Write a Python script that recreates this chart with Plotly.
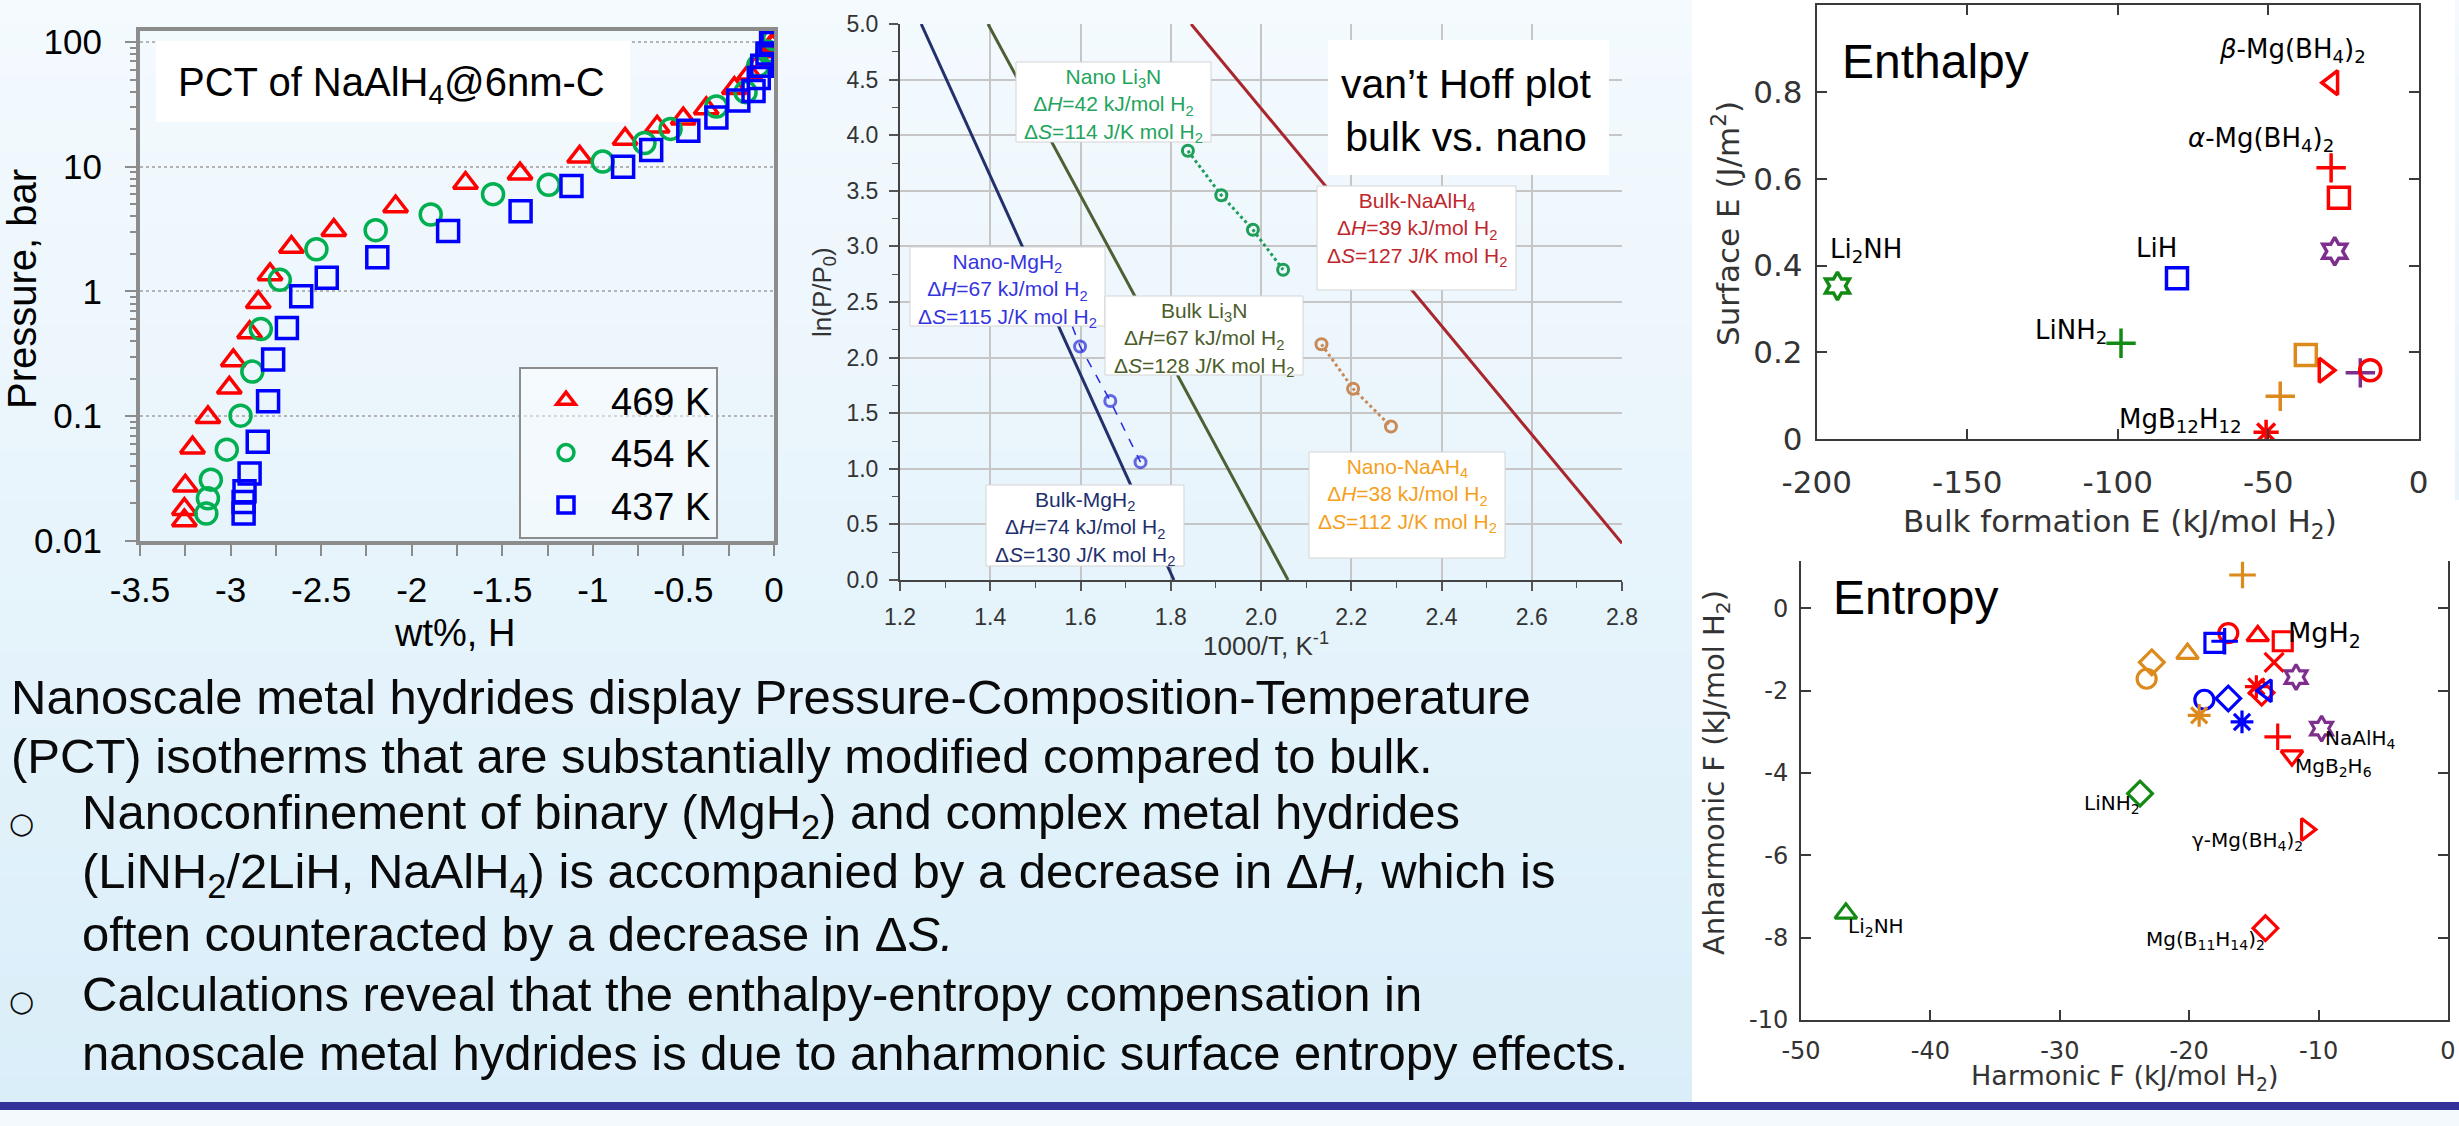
import plotly.graph_objects as go

W, H = 2459, 1126

# ---------------- data: PCT of NaAlH4@6nm-C ----------------
pct_wt_469 = [-3.255, -3.255, -3.25, -3.21, -3.125, -3.007, -2.985, -2.895, -2.847, -2.782, -2.664, -2.43,
              -2.089, -1.703, -1.402, -1.073, -0.822, -0.645, -0.501, -0.374, -0.219, -0.135, -0.078,
              -0.036, -0.008, 0.0]
pct_p_469 = [0.0146, 0.018, 0.0277, 0.056, 0.098, 0.169, 0.28, 0.47, 0.82, 1.37, 2.27, 3.1, 4.8, 7.4, 8.8,
             12.0, 16.7, 20.9, 24.3, 29.3, 42.6, 55.6, 69.6, 84, 94, 100]
pct_wt_454 = [-3.134, -3.125, -3.109, -3.021, -2.945, -2.88, -2.833, -2.728, -2.526, -2.199, -1.895, -1.551,
              -1.244, -0.946, -0.715, -0.571, -0.318, -0.157, -0.087, -0.036, 0.0]
pct_p_454 = [0.0166, 0.022, 0.031, 0.054, 0.101, 0.228, 0.50, 1.24, 2.18, 3.1, 4.14, 6.03, 7.16, 11.0, 15.5,
             20.1, 30.4, 39.6, 64.6, 84, 105]
pct_wt_437 = [-2.928, -2.928, -2.923, -2.895, -2.85, -2.793, -2.765, -2.689, -2.61, -2.469, -2.19, -1.799,
              -1.399, -1.118, -0.833, -0.678, -0.473, -0.318, -0.197, -0.113, -0.084, -0.065, -0.036,
              -0.016, -0.008]
pct_p_437 = [0.0166, 0.0205, 0.025, 0.0347, 0.0624, 0.132, 0.285, 0.51, 0.916, 1.29, 1.88, 3.06, 4.39, 7.0,
             10.0, 13.6, 19.4, 24.8, 34, 40.5, 51.5, 64.6, 81, 98, 113]
pct_series = ["469 K", "454 K", "437 K"]
pct_x_ticks = [-3.5, -3, -2.5, -2, -1.5, -1, -0.5, 0]
pct_x_ticktext = ["-3.5", "-3", "-2.5", "-2", "-1.5", "-1", "-0.5", "0"]
pct_y_ticks = [0.01, 0.1, 1, 10, 100]
pct_y_ticktext = ["0.01", "0.1", "1", "10", "100"]

# ---------------- data: van't Hoff ----------------
vh_bulk_mgh2_x = [1.247, 1.807]
vh_bulk_mgh2_y = [5.0, 0.0]
vh_bulk_li3n_x = [1.395, 2.06]
vh_bulk_li3n_y = [5.0, 0.0]
vh_bulk_naalh4_x = [1.845, 2.8]
vh_bulk_naalh4_y = [5.0, 0.33]
vh_nano_li3n_x = [1.838, 1.912, 1.982, 2.049]
vh_nano_li3n_y = [3.86, 3.46, 3.15, 2.79]
vh_nano_mgh2_x = [1.582, 1.599, 1.666, 1.733]
vh_nano_mgh2_y = [2.28, 2.10, 1.61, 1.06]
vh_nano_naalh4_x = [2.134, 2.204, 2.288]
vh_nano_naalh4_y = [2.12, 1.72, 1.38]
vh_x_ticks = [1.2, 1.4, 1.6, 1.8, 2.0, 2.2, 2.4, 2.6, 2.8]
vh_x_ticktext = ["1.2", "1.4", "1.6", "1.8", "2.0", "2.2", "2.4", "2.6", "2.8"]
vh_y_ticks = [0.0, 0.5, 1.0, 1.5, 2.0, 2.5, 3.0, 3.5, 4.0, 4.5, 5.0]
vh_y_ticktext = ["0.0", "0.5", "1.0", "1.5", "2.0", "2.5", "3.0", "3.5", "4.0", "4.5", "5.0"]

# ---------------- data: Enthalpy ----------------
enth_names = ["Li2NH", "LiH", "LiNH2", "beta-Mg(BH4)2", "alpha-Mg(BH4)2", "MgH2", "NaAlH4", "orange square",
              "gamma-Mg(BH4)2", "purple cross", "red circle", "orange cross", "MgB12H12"]
enth_x = [-193.1, -80.3, -98.9, -28.7, -29.1, -26.5, -27.9, -37.5, -31.3, -19.4, -16.1, -46.0, -50.7]
enth_y = [0.353, 0.371, 0.221, 0.821, 0.625, 0.556, 0.433, 0.194, 0.159, 0.153, 0.159, 0.099, 0.016]
enth_x_ticks = [-200, -150, -100, -50, 0]
enth_x_ticktext = ["-200", "-150", "-100", "-50", "0"]
enth_y_ticks = [0, 0.2, 0.4, 0.6, 0.8, 1]
enth_y_ticktext = ["0", "0.2", "0.4", "0.6", "0.8", "1"]

# ---------------- data: Entropy ----------------
entr_x = [-15.88, -16.98, -14.70, -12.77, -18.05, -17.26, -20.13, -22.89, -23.29, -13.44, -11.74, -14.81,
          -14.4, -14.03, -18.83, -16.98, -19.23, -15.92, -9.77, -13.16, -12.06, -23.80, -10.95, -46.53, -14.11]
entr_y = [0.81, -0.60, -0.67, -0.80, -0.84, -0.80, -1.10, -1.31, -1.71, -1.31, -1.67, -1.90, -2.05, -2.0,
          -2.22, -2.19, -2.60, -2.76, -2.92, -3.12, -3.58, -4.50, -5.37, -7.41, -7.77]
entr_x_ticks = [-50, -40, -30, -20, -10, 0]
entr_x_ticktext = ["-50", "-40", "-30", "-20", "-10", "0"]
entr_y_ticks = [-10, -8, -6, -4, -2, 0]
entr_y_ticktext = ["-10", "-8", "-6", "-4", "-2", "0"]

# ---------------- styles ----------------
RED, BLUE, GRN, PUR, ORG = "#ff0000", "#0000ff", "#138a13", "#7e2f8e", "#dc8a1c"
enth_sym = ["hexagram-open", "square-open", "cross-thin-open", "triangle-left-open", "cross-thin-open",
            "square-open", "hexagram-open", "square-open", "triangle-right-open", "cross-thin-open",
            "circle-open", "cross-thin-open", "asterisk-open"]
enth_col = [GRN, BLUE, GRN, RED, RED, RED, PUR, ORG, RED, PUR, RED, ORG, RED]
entr_sym = ["cross-thin-open", "circle-open", "triangle-up-open", "square-open", "square-open",
            "cross-thin-open", "triangle-up-open", "diamond-open", "circle-open", "x-thin-open",
            "hexagram-open", "asterisk-open", "diamond-open", "triangle-left-open", "circle-open",
            "diamond-open", "asterisk-open", "asterisk-open", "hexagram-open", "cross-thin-open",
            "triangle-down-open", "diamond-open", "triangle-right-open", "triangle-up-open", "diamond-open"]
entr_col = [ORG, RED, RED, RED, BLUE, BLUE, ORG, ORG, ORG, RED, PUR, RED, RED, BLUE, BLUE, BLUE, ORG, BLUE,
            PUR, RED, RED, GRN, RED, GRN, RED]

SANS = "Liberation Sans, Arial, sans-serif"
DEJA = "DejaVu Sans, sans-serif"


def PX(x):
    return x / W


def PY(y):
    return 1 - y / H


fig = go.Figure()

# ---------- PCT traces ----------
pct_data = [(pct_wt_469, pct_p_469, "triangle-up-open", RED),
            (pct_wt_454, pct_p_454, "circle-open", "#00b050"),
            (pct_wt_437, pct_p_437, "square-open", BLUE)]
for name, (xs, ys, sym, col) in zip(pct_series, pct_data):
    fig.add_trace(go.Scatter(x=xs, y=ys, mode="markers", name=name, xaxis="x", yaxis="y",
                             marker=dict(symbol=sym, size=21, color=col, line=dict(color=col, width=3.5))))

# ---------- van't Hoff traces ----------
for xs, ys, col in [(vh_bulk_mgh2_x, vh_bulk_mgh2_y, "#22316c"),
                    (vh_bulk_li3n_x, vh_bulk_li3n_y, "#4d5f33"),
                    (vh_bulk_naalh4_x, vh_bulk_naalh4_y, "#a8262c")]:
    fig.add_trace(go.Scatter(x=xs, y=ys, mode="lines", xaxis="x2", yaxis="y2", showlegend=False,
                             line=dict(color=col, width=3)))
fig.add_trace(go.Scatter(x=vh_nano_li3n_x, y=vh_nano_li3n_y, mode="lines+markers", xaxis="x2", yaxis="y2",
                         showlegend=False, line=dict(color="#1e9e58", width=3, dash="dot"),
                         marker=dict(symbol="circle-open", size=11, color="#1e9e58",
                                     line=dict(color="#1e9e58", width=3))))
fig.add_trace(go.Scatter(x=vh_nano_mgh2_x, y=vh_nano_mgh2_y, mode="lines+markers", xaxis="x2", yaxis="y2",
                         showlegend=False, line=dict(color="#2a2ad8", width=1.5, dash="dash"),
                         marker=dict(symbol="circle-open", size=[0, 11, 11, 11], color="#2a2ad8",
                                     line=dict(color="#2a2ad8", width=3))))
fig.add_trace(go.Scatter(x=vh_nano_naalh4_x, y=vh_nano_naalh4_y, mode="lines+markers", xaxis="x2", yaxis="y2",
                         showlegend=False, line=dict(color="#c98a58", width=3, dash="dot"),
                         marker=dict(symbol="circle-open", size=11, color="#c98a58",
                                     line=dict(color="#c98a58", width=3))))

# ---------- Enthalpy / Entropy traces ----------
fig.add_trace(go.Scatter(x=enth_x, y=enth_y, mode="markers", xaxis="x3", yaxis="y3", showlegend=False,
                         text=enth_names,
                         marker=dict(symbol=enth_sym, size=21, color=enth_col,
                                     line=dict(color=enth_col, width=3.5))))
fig.add_trace(go.Scatter(x=entr_x, y=entr_y, mode="markers", xaxis="x4", yaxis="y4", showlegend=False,
                         marker=dict(symbol=entr_sym, size=19, color=entr_col,
                                     line=dict(color=entr_col, width=3.2))))

shapes = []
# background gradient
top_c = (0xf4, 0xfa, 0xfe)
bot_c = (0xda, 0xee, 0xf9)
N = 44
band = 1102 / N
for i in range(N):
    t = i / (N - 1)
    c = tuple(round(top_c[k] + (bot_c[k] - top_c[k]) * t) for k in range(3))
    shapes.append(dict(type="rect", xref="paper", yref="paper", x0=0, x1=1,
                       y0=PY((i + 1) * band + 0.5), y1=PY(i * band), line=dict(width=0),
                       fillcolor="rgb(%d,%d,%d)" % c, layer="below"))
# white panels on the right
shapes.append(dict(type="rect", xref="paper", yref="paper", x0=PX(1692), x1=PX(2455), y0=PY(500), y1=PY(0),
                   line=dict(width=0), fillcolor="white", layer="below"))
shapes.append(dict(type="rect", xref="paper", yref="paper", x0=PX(1692), x1=1, y0=PY(1102), y1=PY(500),
                   line=dict(width=0), fillcolor="white", layer="below"))
# bottom bar
shapes.append(dict(type="rect", xref="paper", yref="paper", x0=0, x1=1, y0=PY(1110), y1=PY(1102),
                   line=dict(width=0), fillcolor="#333399", layer="below"))
shapes.append(dict(type="rect", xref="paper", yref="paper", x0=0, x1=1, y0=0, y1=PY(1110),
                   line=dict(width=0), fillcolor="#f4f9fd", layer="below"))
# PCT title box
shapes.append(dict(type="rect", xref="paper", yref="paper", x0=PX(156), x1=PX(630), y0=PY(122), y1=PY(41),
                   line=dict(width=0), fillcolor="white", layer="above"))

annotations = []


def ann(text, x, y, size, color="black", family=SANS, xanchor="center", yanchor="middle", **kw):
    d = dict(text=text, xref="paper", yref="paper", x=PX(x), y=PY(y), showarrow=False,
             xanchor=xanchor, yanchor=yanchor, font=dict(size=size, color=color, family=family))
    d.update(kw)
    annotations.append(d)


# PCT title text and axis titles
ann("PCT of NaAlH<sub>4</sub>@6nm-C", 176, 85, 40, xanchor="left")
ann("Pressure, bar", 22, 289, 40, textangle=-90)
ann("wt%, H", 454, 633, 38)

# van't Hoff boxes
vh_boxes = [
    ("Nano Li<sub>3</sub>N<br>Δ<i>H</i>=42 kJ/mol H<sub>2</sub><br>Δ<i>S</i>=114 J/K mol H<sub>2</sub>",
     1016, 1211, 62, 142, "#22a45d"),
    ("Bulk-NaAlH<sub>4</sub><br>Δ<i>H</i>=39 kJ/mol H<sub>2</sub><br>Δ<i>S</i>=127 J/K mol H<sub>2</sub>",
     1317, 1516, 186, 290, "#c0272d"),
    ("Nano-MgH<sub>2</sub><br>Δ<i>H</i>=67 kJ/mol H<sub>2</sub><br>Δ<i>S</i>=115 J/K mol H<sub>2</sub>",
     910, 1105, 247, 326, "#3535e0"),
    ("Bulk Li<sub>3</sub>N<br>Δ<i>H</i>=67 kJ/mol H<sub>2</sub><br>Δ<i>S</i>=128 J/K mol H<sub>2</sub>",
     1105, 1303, 296, 375, "#4b5d2a"),
    ("Nano-NaAH<sub>4</sub><br>Δ<i>H</i>=38 kJ/mol H<sub>2</sub><br>Δ<i>S</i>=112 J/K mol H<sub>2</sub>",
     1309, 1505, 452, 558, "#f5a01c"),
    ("Bulk-MgH<sub>2</sub><br>Δ<i>H</i>=74 kJ/mol H<sub>2</sub><br>Δ<i>S</i>=130 J/K mol H<sub>2</sub>",
     986, 1184, 485, 566, "#1e2f6e"),
]
for text, x0, x1, y0, y1, col in vh_boxes:
    shapes.append(dict(type="rect", xref="paper", yref="paper", x0=PX(x0), x1=PX(x1), y0=PY(y1), y1=PY(y0),
                       line=dict(color="#d4d4d4", width=1), fillcolor="white", layer="above"))
    ann(text, (x0 + x1) / 2, y0 + 1, 21, color=col, yanchor="top")
shapes.append(dict(type="rect", xref="paper", yref="paper", x0=PX(1328), x1=PX(1609), y0=PY(175), y1=PY(40),
                   line=dict(width=0), fillcolor="white", layer="above"))
ann("van’t Hoff plot<br>bulk vs. nano", 1466, 110, 41)
ann("ln(P/P<sub>0</sub>)", 824, 292, 26, color="#333333", textangle=-90)
ann("1000/T, K<sup>-1</sup>", 1266, 644, 26, color="#333333")

# Enthalpy texts
ann("Enthalpy", 1840, 61, 48, xanchor="left")
ann("Surface E (J/m<sup>2</sup>)", 1726, 224, 31, color="#333333", family=DEJA, textangle=-90)
ann("Bulk formation E (kJ/mol H<sub>2</sub>)", 2120, 523, 31, color="#333333", family=DEJA)
enth_labels = [(0, "Li<sub>2</sub>NH", "left", -9, 35), (1, "LiH", "right", 2, 30),
               (2, "LiNH<sub>2</sub>", "right", -12, 12), (3, "<i>β</i>-Mg(BH<sub>4</sub>)<sub>2</sub>", "center", -40, 32),
               (4, "<i>α</i>-Mg(BH<sub>4</sub>)<sub>2</sub>", "center", -70, 28),
               (12, "MgB<sub>12</sub>H<sub>12</sub>", "right", -22, 12)]
for i, text, xa, dx, dy in enth_labels:
    annotations.append(dict(text=text, xref="x3", yref="y3", x=enth_x[i], y=enth_y[i], showarrow=False,
                            xanchor=xa, yanchor="middle", xshift=dx, yshift=dy,
                            font=dict(size=26, color="black", family=DEJA)))

# Entropy texts
ann("Entropy", 1831, 597, 48, xanchor="left")
ann("Anharmonic F (kJ/mol H<sub>2</sub>)", 1716, 773, 29, color="#333333", family=DEJA, textangle=-90)
ann("Harmonic F (kJ/mol H<sub>2</sub>)", 2124, 1077, 27, color="#333333", family=DEJA)
entr_labels = [(3, "MgH<sub>2</sub>", "left", 3, 7, 27), (18, "NaAlH<sub>4</sub>", "left", 1, -10, 20),
               (20, "MgB<sub>2</sub>H<sub>6</sub>", "left", 1, -11, 20), (21, "LiNH<sub>2</sub>", "right", 2, -10, 20),
               (22, "γ-Mg(BH<sub>4</sub>)<sub>2</sub>", "right", -1, -12, 20),
               (23, "Li<sub>2</sub>NH", "left", 0, -14, 20), (24, "Mg(B<sub>11</sub>H<sub>14</sub>)<sub>2</sub>", "right", 2, -12, 20)]
for i, text, xa, dx, dy, fs in entr_labels:
    annotations.append(dict(text=text, xref="x4", yref="y4", x=entr_x[i], y=entr_y[i], showarrow=False,
                            xanchor=xa, yanchor="middle", xshift=dx, yshift=dy,
                            font=dict(size=fs, color="black", family=DEJA)))

# paragraph text
LINE0, STEP = 697, 59.3
para = [
    (9, 0, "Nanoscale metal hydrides display Pressure-Composition-Temperature"),
    (9, 1, "(PCT) isotherms that are substantially modified compared to bulk."),
    (80, 2, "Nanoconfinement of binary (MgH<sub>2</sub>) and complex metal hydrides"),
    (80, 3, "(LiNH<sub>2</sub>/2LiH, NaAlH<sub>4</sub>) is accompanied by a decrease in Δ<i>H,</i> which is"),
    (80, 4, "often counteracted by a decrease in Δ<i>S.</i>"),
    (80, 5, "Calculations reveal that the enthalpy-entropy compensation in"),
    (80, 6, "nanoscale metal hydrides is due to anharmonic surface entropy effects."),
]
for x, k, t in para:
    ann(t, x, LINE0 + STEP * k, 49, color="#0a0a0a", xanchor="left")
for k in (2, 5):
    ann("○", 21, LINE0 + STEP * k + 7, 29, color="#0a0a0a", family=DEJA)

common = dict(automargin=False, zeroline=False)
fig.update_layout(
    template="none",
    width=W, height=H, margin=dict(l=0, r=0, t=0, b=0, pad=0), autosize=False,
    font=dict(family=SANS, color="black"),
    paper_bgcolor="#f4f9fd", plot_bgcolor="rgba(0,0,0,0)",
    shapes=shapes, annotations=annotations,
    legend=dict(x=PX(519), y=PY(367), xanchor="left", yanchor="top", bgcolor="rgba(255,255,255,0.45)",
                bordercolor="#8c8c8c", borderwidth=2, itemwidth=80,
                font=dict(size=38, family=SANS, color="black"), tracegroupgap=0),
    # PCT
    xaxis=dict(domain=[PX(140), PX(774)], range=[-3.5, 0], tickvals=pct_x_ticks, ticktext=pct_x_ticktext,
               showline=True, linecolor="#8c8c8c", linewidth=4, mirror=True, showgrid=False,
               ticks="outside", ticklen=11, tickwidth=2, tickcolor="#8c8c8c", ticklabelstandoff=4,
               minor=dict(dtick=0.25, ticks="outside", ticklen=11, tickwidth=2, tickcolor="#8c8c8c"),
               tickfont=dict(size=35, family=SANS, color="black"), anchor="y", **common),
    yaxis=dict(domain=[PY(541), PY(31)], type="log", range=[-2, 2.088], tickvals=pct_y_ticks,
               ticktext=pct_y_ticktext, showline=True, linecolor="#8c8c8c", linewidth=4, mirror=True,
               showgrid=True, gridcolor="#b4b4b4", griddash="dot", gridwidth=1.5,
               ticks="outside", ticklen=11, tickwidth=2, tickcolor="#8c8c8c", ticklabelstandoff=16,
               minor=dict(dtick="D1", ticks="outside", ticklen=6, tickwidth=1.5, tickcolor="#8c8c8c",
                          showgrid=False),
               tickfont=dict(size=35, family=SANS, color="black"), anchor="x", **common),
    # van't Hoff
    xaxis2=dict(domain=[PX(900), PX(1622)], range=[1.2, 2.8], tickvals=vh_x_ticks, ticktext=vh_x_ticktext,
                showline=True, linecolor="#444444", linewidth=2, showgrid=True, gridcolor="#c6c6c6", gridwidth=1.5,
                ticks="outside", ticklen=9, tickwidth=1.5, tickcolor="#555555",
                ticklabelstandoff=6,
                minor=dict(dtick=0.1, ticks="outside", ticklen=6, tickwidth=1.2, tickcolor="#555555", showgrid=False),
                tickfont=dict(size=23, family=SANS, color="#333333"), anchor="y2", **common),
    yaxis2=dict(domain=[PY(580), PY(24)], range=[0, 5], tickvals=vh_y_ticks, ticktext=vh_y_ticktext,
                showline=True, linecolor="#444444", linewidth=2, showgrid=True, gridcolor="#c6c6c6", gridwidth=1.5,
                ticks="outside", ticklen=9, tickwidth=1.5, tickcolor="#555555",
                ticklabelstandoff=6,
                minor=dict(dtick=0.25, ticks="outside", ticklen=6, tickwidth=1.2, tickcolor="#555555", showgrid=False),
                tickfont=dict(size=23, family=SANS, color="#333333"), anchor="x2", **common),
    # Enthalpy
    xaxis3=dict(domain=[PX(1816.7), PX(2418.7)], range=[-200, 0], tickvals=enth_x_ticks, ticktext=enth_x_ticktext,
                showline=True, linecolor="#3a3a3a", linewidth=2, mirror="ticks", showgrid=False,
                ticks="inside", ticklen=10, tickwidth=1.5, tickcolor="#3a3a3a", ticklabelstandoff=14,
                tickfont=dict(size=31, family=DEJA, color="#333333"), anchor="y3", **common),
    yaxis3=dict(domain=[PY(439.3), PY(5)], range=[0, 1], tickvals=enth_y_ticks, ticktext=enth_y_ticktext,
                showline=True, linecolor="#3a3a3a", linewidth=2, mirror="ticks", showgrid=False,
                ticks="inside", ticklen=10, tickwidth=1.5, tickcolor="#3a3a3a", ticklabelstandoff=6,
                tickfont=dict(size=31, family=DEJA, color="#333333"), anchor="x3", **common),
    # Entropy
    xaxis4=dict(domain=[PX(1801), PX(2448)], range=[-50, 0], tickvals=entr_x_ticks, ticktext=entr_x_ticktext,
                showline=True, linecolor="#3a3a3a", linewidth=2, showgrid=False,
                ticks="inside", ticklen=10, tickwidth=1.5, tickcolor="#3a3a3a", ticklabelstandoff=8,
                tickfont=dict(size=24, family=DEJA, color="#333333"), anchor="y4", **common),
    yaxis4=dict(domain=[PY(1020), PY(561)], range=[-10, 1.15], tickvals=entr_y_ticks, ticktext=entr_y_ticktext,
                showline=True, linecolor="#3a3a3a", linewidth=2, mirror="ticks", showgrid=False,
                ticks="inside", ticklen=10, tickwidth=1.5, tickcolor="#3a3a3a", ticklabelstandoff=6,
                tickfont=dict(size=24, family=DEJA, color="#333333"), anchor="x4", **common),
)

fig.write_html("out.html")
